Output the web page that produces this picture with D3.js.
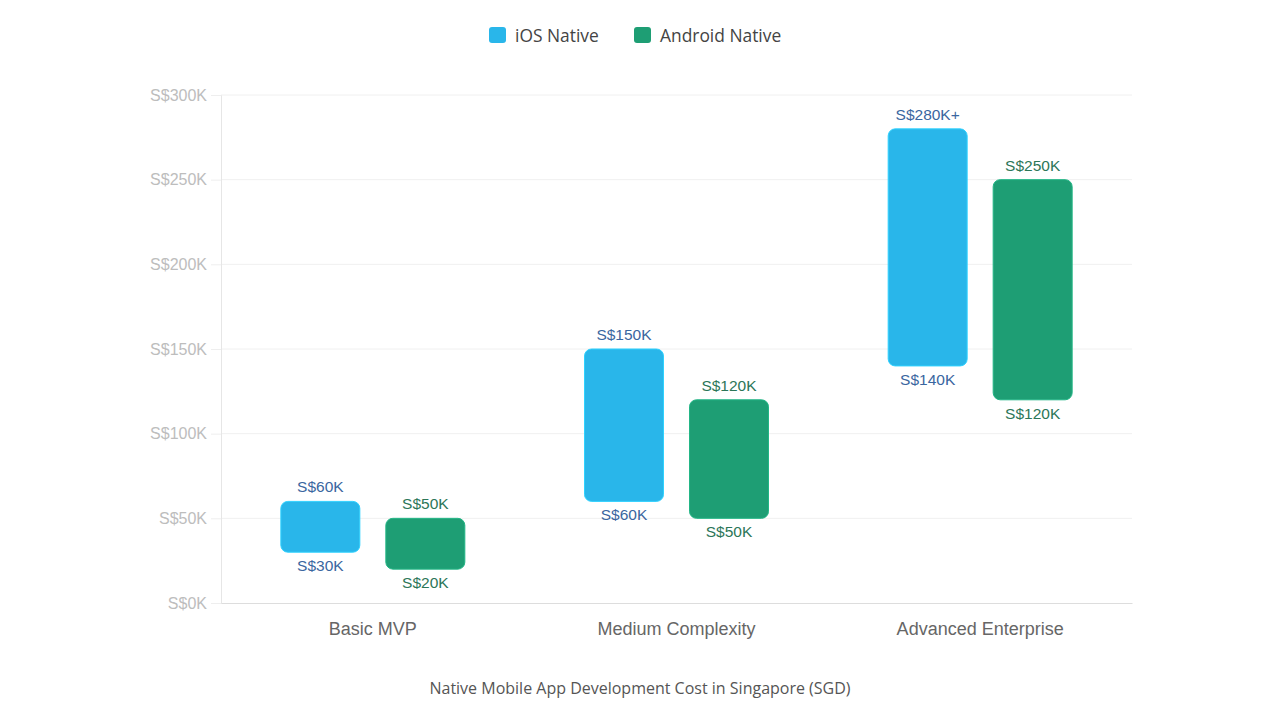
<!DOCTYPE html>
<html>
<head>
<meta charset="utf-8">
<script src="https://cdn.jsdelivr.net/npm/d3@7"></script>
<style>
  body { margin: 0; background: #fff; }
  svg { display: block; }
</style>
</head>
<body>
<div id="chart"></div>
<script>
// data
const categories = ["Basic MVP", "Medium Complexity", "Advanced Enterprise"];
const seriesNames = ["iOS Native", "Android Native"];
const iosLow = [30, 60, 140];
const iosHigh = [60, 150, 280];
const androidLow = [20, 50, 120];
const androidHigh = [50, 120, 250];
const iosHighLabels = ["S$60K", "S$150K", "S$280K+"];
const yTicks = [0, 50, 100, 150, 200, 250, 300];

const W = 1280, H = 720;
const margin = { top: 95, right: 148, bottom: 117, left: 221 };
const width = W - margin.left - margin.right;
const height = H - margin.top - margin.bottom;

const colors = ["#29b6ea", "#1e9e74"];
const labelColors = ["#3a66a0", "#2c7658"];
const labelFont = "Arial, 'Liberation Sans', sans-serif";
const uiFont = "'Open Sans', 'Noto Sans', sans-serif";

const svg = d3.select("#chart").append("svg")
  .attr("width", W).attr("height", H);

const g = svg.append("g")
  .attr("transform", "translate(" + margin.left + "," + margin.top + ")");

const x = d3.scaleBand().domain(categories).range([0, width]);
// two bars per group, 79px wide with a 26px gap
const xSub = d3.scaleBand().domain(seriesNames)
  .range([x.bandwidth() / 2 - 92, x.bandwidth() / 2 + 92])
  .paddingInner(26 / 105);
const y = d3.scaleLinear().domain([0, 300]).range([height, 0]);

// gridlines
g.append("g").selectAll("line")
  .data(yTicks.slice(1))
  .enter().append("line")
  .attr("x1", 0).attr("x2", width)
  .attr("y1", d => y(d)).attr("y2", d => y(d))
  .attr("stroke", "#f0f0f0");

// y axis
const yAxis = d3.axisLeft(y).tickValues(yTicks).tickSize(10).tickPadding(4)
  .tickFormat(d => "S$" + d + "K");
const ya = g.append("g").call(yAxis);
ya.select(".domain").attr("stroke", "#e6e6e6");
ya.selectAll(".tick line").attr("stroke", "#eeeeee");
ya.selectAll("text").attr("fill", "#bdbdbd")
  .style("font-family", labelFont).style("font-size", "16px");

// x axis
const xa = g.append("g").attr("transform", "translate(0," + height + ")")
  .call(d3.axisBottom(x).tickSize(0).tickPadding(19));
xa.select(".domain").attr("stroke", "#dddddd");
xa.selectAll("text").attr("fill", "#666")
  .style("font-family", labelFont).style("font-size", "18px");

const series = [
  { name: seriesNames[0], low: iosLow, high: iosHigh },
  { name: seriesNames[1], low: androidLow, high: androidHigh }
];

series.forEach((s, si) => {
  const grp = g.append("g");
  const rows = categories.map((c, i) => ({ cat: c, low: s.low[i], high: s.high[i], i: i }));

  grp.selectAll("rect").data(rows).enter().append("rect")
    .attr("x", d => x(d.cat) + xSub(s.name))
    .attr("y", d => y(d.high))
    .attr("width", xSub.bandwidth())
    .attr("height", d => y(d.low) - y(d.high))
    .attr("rx", 7).attr("ry", 7)
    .attr("fill", colors[si])
    .attr("stroke", d3.color(colors[si]).brighter(0.4))
    .attr("stroke-width", 1);

  grp.selectAll(".top").data(rows).enter().append("text")
    .attr("class", "top")
    .attr("x", d => x(d.cat) + xSub(s.name) + xSub.bandwidth() / 2)
    .attr("y", d => y(d.high) - 9)
    .attr("text-anchor", "middle")
    .attr("fill", labelColors[si])
    .style("font-family", labelFont).style("font-size", "15.5px")
    .text(d => si === 0 ? iosHighLabels[d.i] : "S$" + d.high + "K");

  grp.selectAll(".bot").data(rows).enter().append("text")
    .attr("class", "bot")
    .attr("x", d => x(d.cat) + xSub(s.name) + xSub.bandwidth() / 2)
    .attr("y", d => y(d.low) + 19)
    .attr("text-anchor", "middle")
    .attr("fill", labelColors[si])
    .style("font-family", labelFont).style("font-size", "15.5px")
    .text(d => "S$" + d.low + "K");
});

// legend
const legendX = [489, 634];
const legend = svg.append("g");
seriesNames.forEach((n, i) => {
  legend.append("rect")
    .attr("x", legendX[i]).attr("y", 27)
    .attr("width", 17).attr("height", 16)
    .attr("rx", 3).attr("fill", colors[i]);
  legend.append("text")
    .attr("x", legendX[i] + 26).attr("y", 42)
    .attr("fill", "#444")
    .style("font-family", uiFont).style("font-size", "17.4px")
    .text(n);
});

// title at bottom
svg.append("text")
  .attr("x", 640).attr("y", 694)
  .attr("text-anchor", "middle")
  .attr("fill", "#555")
  .style("font-family", uiFont).style("font-size", "16px")
  .text("Native Mobile App Development Cost in Singapore (SGD)");
</script>
</body>
</html>
